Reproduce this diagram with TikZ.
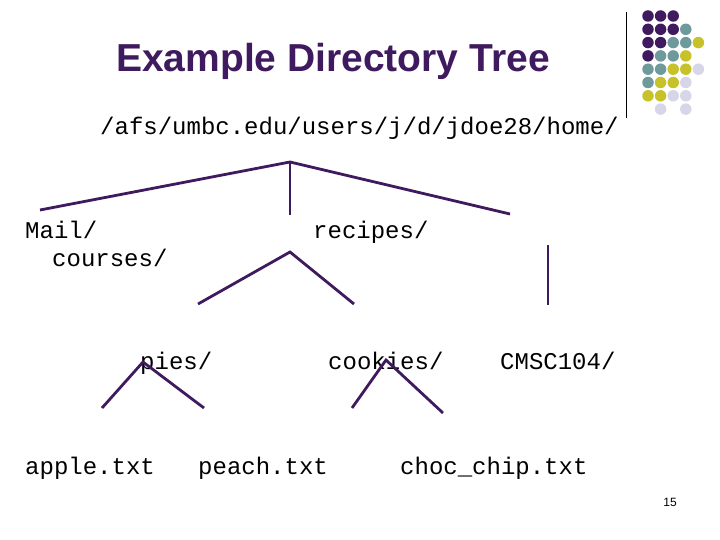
\documentclass[tikz,border=0pt]{standalone}
\usepackage{fontspec}
\setmainfont{Liberation Sans}
\newfontfamily\mono{Liberation Mono}
\definecolor{tp}{HTML}{3F1A5E}
\definecolor{tt}{HTML}{6F9A9C}
\definecolor{ty}{HTML}{C7C22A}
\definecolor{tl}{HTML}{D6D6E8}
\begin{document}
\begin{tikzpicture}[x=1pt,y=-1pt,
  lbl/.style={anchor=mid west,inner sep=0pt,font=\mono\fontsize{24}{28}\selectfont},
  br/.style={draw=tp,line width=2.8pt},
  dot/.style={circle,inner sep=0pt,minimum size=11.5pt}]
\useasboundingbox (0,0) rectangle (720,540);
\node[font=\bfseries\fontsize{39}{44}\selectfont,text=tp] (title) at (333,61) {Example Directory Tree};
\node[lbl] (root) at (100,132) {/afs/umbc.edu/users/j/d/jdoe28/home/};
\node[lbl] (mail) at (25,236) {Mail/};
\node[lbl] (courses) at (52,264) {courses/};
\node[lbl] (recipes) at (313,236) {recipes/};
\node[lbl] (pies) at (140,367) {pies/};
\node[lbl] (cookies) at (328,367) {cookies/};
\node[lbl] (cmsc) at (500,367) {CMSC104/};
\node[lbl] (apple) at (25,472) {apple.txt};
\node[lbl] (peach) at (198,472) {peach.txt};
\node[lbl] (choc) at (400,472) {choc\_chip.txt};
\node[font=\fontsize{12}{14}\selectfont] (pg) at (670,502) {15};
% branches
\coordinate (j1) at (290,162);
\coordinate (a1) at (40,210); \coordinate (a2) at (290,215); \coordinate (a3) at (510,214);
\draw[br] (a1) -- (j1) -- (a3); \draw[br] (j1) -- (a2);
\coordinate (c1) at (548,245); \coordinate (c2) at (548,305);
\draw[br] (c1) -- (c2);
\coordinate (r0) at (290,252); \coordinate (r1) at (198,304); \coordinate (r2) at (354,304);
\draw[br] (r1) -- (r0) -- (r2);
\coordinate (p0) at (143,362); \coordinate (p1) at (102,408); \coordinate (p2) at (204,408);
\draw[br] (p1) -- (p0) -- (p2);
\coordinate (k0) at (386,360); \coordinate (k1) at (352,408); \coordinate (k2) at (443,413);
\draw[br] (k1) -- (k0) -- (k2);
% decoration
\coordinate (v1) at (626,12); \coordinate (v2) at (626,118);
\draw[line width=1pt] (v1) -- (v2);
\foreach \row [count=\r] in {{tp,tp,tp},{tp,tp,tp,tt},{tp,tp,tt,tt,ty},{tp,tt,tt,ty},{tt,tt,ty,ty,tl},{tt,ty,ty,tl},{ty,ty,tl,tl},{white,tl,white,tl}}{
  \foreach \c [count=\k] in \row {
    \node[dot,fill=\c] (d\r\k) at ({648+12.6*(\k-1)},{16+13.3*(\r-1)}) {};
  }
}
\end{tikzpicture}
\end{document}
